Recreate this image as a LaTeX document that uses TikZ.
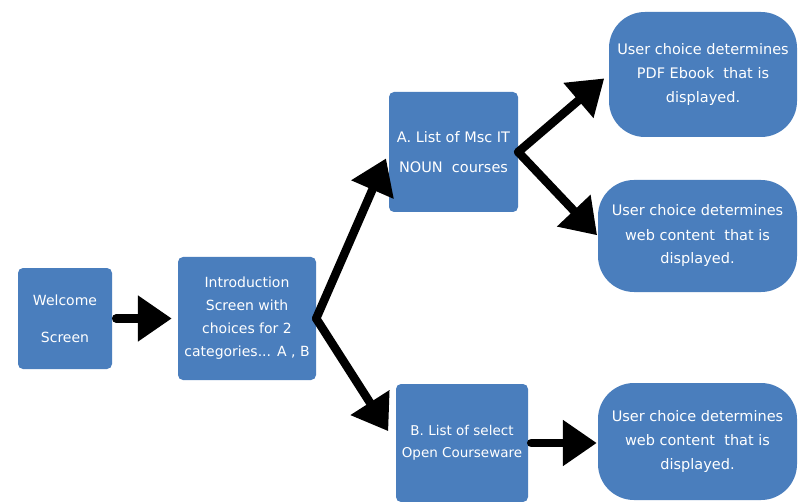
\documentclass[tikz,border=0pt]{standalone}
\usepackage{fontspec}
\setmainfont{DejaVu Sans}
\usetikzlibrary{arrows.meta}
\definecolor{boxblue}{HTML}{4A7EBD}
\tikzset{
  sqbox/.style={fill=boxblue, draw=none, rounded corners=5pt, text=white, align=center,
    inner sep=0pt, font=\fontsize{14}{23}\selectfont},
  rdbox/.style={fill=boxblue, draw=none, rounded corners=36pt, text=white, align=center,
    inner sep=0pt, font=\fontsize{14.5}{24}\selectfont},
  bigarrow/.style={draw=black, line width=8.5pt, line cap=round,
    -{Triangle[length=34pt,width=44pt]}}
}
\begin{document}
\begin{tikzpicture}[x=1pt,y=-1pt]
\useasboundingbox (0,0) rectangle (799,502);
\fill[white] (0,0) rectangle (799,502);
\node[sqbox, minimum width=94pt, minimum height=101pt, font=\fontsize{14}{37}\selectfont] (welcome) at (65,318.5) {Welcome\\Screen};
\node[sqbox, minimum width=138pt, minimum height=123pt] (intro) at (247,318.5) {Introduction\\Screen with\\choices for 2\\categories... A , B};
\node[sqbox, minimum width=129pt, minimum height=120pt, font=\fontsize{14.5}{30}\selectfont] (A) at (453.5,152) {A. List of Msc IT\\NOUN\ \ courses};
\node[sqbox, minimum width=132pt, minimum height=118pt, font=\fontsize{13.5}{22}\selectfont] (B) at (462,443) {B. List of select\\Open Courseware};
\node[rdbox, minimum width=188pt, minimum height=125pt] (pdf) at (703,74.5) {User choice determines\\PDF Ebook\ \ that is\\displayed.};
\node[rdbox, minimum width=199pt, minimum height=112pt] (webA) at (697.5,236) {User choice determines\\web content\ \ that is\\displayed.};
\node[rdbox, minimum width=199pt, minimum height=117pt] (webB) at (697.5,441.5) {User choice determines\\web content\ \ that is\\displayed.};
\draw[bigarrow, shorten <=4pt, shorten >=6pt] (welcome.east) -- (intro.west);
\draw[bigarrow, shorten >=7pt] (intro.east) -- (A.west);
\draw[bigarrow, shorten >=14pt] (intro.east) -- (B.west);
\draw[bigarrow, shorten >=6pt] (A.east) -- (pdf.west);
\draw[bigarrow, shorten >=1pt] (A.east) -- (webA.west);
\draw[bigarrow, shorten <=3pt, shorten >=1pt] (B.east) -- (B.east -| webB.west);
\end{tikzpicture}
\end{document}
